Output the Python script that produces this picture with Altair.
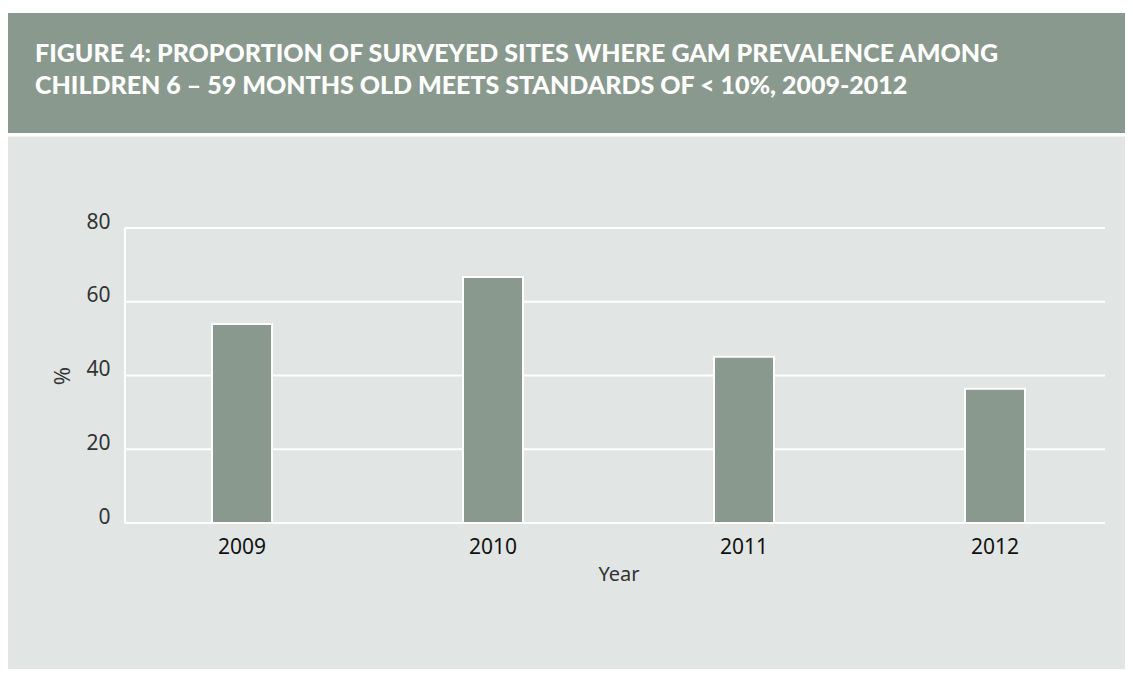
import altair as alt
import pandas as pd

years = ["2009", "2010", "2011", "2012"]
percent = [54.0, 66.7, 45.1, 36.4]
y_ticks = [0, 20, 40, 60, 80]
title_lines = [
    "FIGURE 4: PROPORTION OF SURVEYED SITES WHERE GAM PREVALENCE AMONG",
    "CHILDREN 6 \u2013 59 MONTHS OLD MEETS STANDARDS OF < 10%, 2009-2012",
]

df = pd.DataFrame({"Year": years, "pct": percent})
grid_df = pd.DataFrame({"pct": y_ticks})
deco = alt.Chart(pd.DataFrame({"k": [0]}))

W, H = 1004, 295
TOTAL_W, TOTAL_H = 1117, 661
PAD = {"left": 108.5, "top": 220, "right": TOTAL_W - 108.5 - W, "bottom": TOTAL_H - 220 - H}
RIGHT = TOTAL_W - 108.5

BAND = "#8a998e"
PANEL = "#e1e5e4"
FONT = "Noto Sans"

yscale = alt.Scale(domain=[0, 80], nice=False, zero=True)
xscale = alt.Scale(paddingInner=0.761, paddingOuter=0.3805)

y_axis = alt.Axis(
    title="%",
    zindex=5,
    values=y_ticks,
    grid=False,
    domain=False,
    ticks=False,
    labelFont=FONT,
    labelFontSize=21,
    labelColor="#333333",
    labelPadding=6.5,
    labelOffset=-6,
    titleFont=FONT,
    titleFontSize=22,
    titleFontWeight="normal",
    titleColor="#333333",
    titleAngle=-90,
    titleX=-54.5,
    titleY=147.5,
    titleAlign="center",
    titleBaseline="middle",
)

band_rect = deco.mark_rect(color=BAND).encode(
    x=alt.value(-108.5), x2=alt.value(RIGHT), y=alt.value(-215), y2=alt.value(-95)
)
panel_rect = deco.mark_rect(color=PANEL).encode(
    x=alt.value(-108.5), x2=alt.value(RIGHT), y=alt.value(-91.5), y2=alt.value(TOTAL_H - 220)
)

grid = alt.Chart(grid_df).mark_rule(color="white", strokeWidth=2).encode(
    y=alt.Y("pct:Q", scale=yscale, axis=y_axis),
    x=alt.value(8.5),
    x2=alt.value(988.5),
)
yline = deco.mark_rule(color="white", strokeWidth=2).encode(
    x=alt.value(8.5), y=alt.value(0), y2=alt.value(H)
)

bars = alt.Chart(df).mark_bar(color=BAND, stroke="white", strokeWidth=2).encode(
    x=alt.X(
        "Year:N",
        scale=xscale,
        sort=years,
        axis=alt.Axis(
            title="Year",
            zindex=5,
            domain=False,
            ticks=False,
            labelAngle=0,
            labelFont=FONT,
            labelFontSize=21,
            labelColor="#111111",
            labelPadding=13,
            titleFont=FONT,
            titleFontSize=20,
            titleFontWeight="normal",
            titleColor="#333333",
            titlePadding=7,
        ),
    ),
    y=alt.Y("pct:Q", scale=yscale, axis=y_axis),
)

title = deco.mark_text(
    align="left",
    baseline="alphabetic",
    font="Lato",
    fontWeight=900,
    fontSize=25,
    color="white",
    lineHeight=32,
).encode(x=alt.value(-81.5), y=alt.value(-166), text=alt.value(title_lines))

chart = (
    alt.layer(band_rect, panel_rect, grid, yline, bars, title)
    .properties(
        width=W,
        height=H,
        padding=PAD,
        autosize=alt.AutoSizeParams(type="none"),
        background="white",
    )
    .configure_view(stroke=None)
)

chart.save("out.html", embed_options={"renderer": "svg", "actions": False})
